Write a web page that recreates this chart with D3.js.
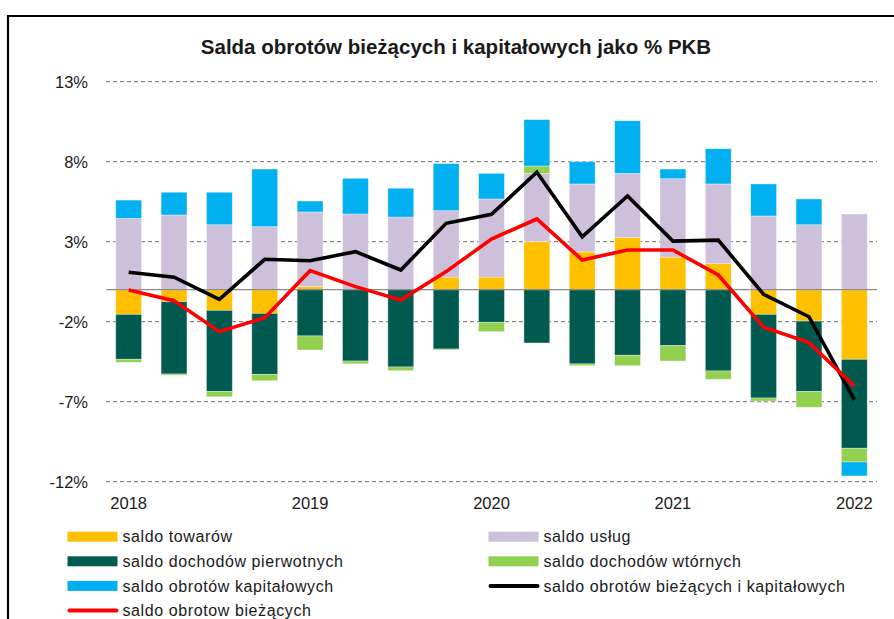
<!DOCTYPE html>
<html>
<head>
<meta charset="utf-8">
<script src="https://cdn.jsdelivr.net/npm/d3@7"></script>
<style>
  body { margin: 0; background: #fff; }
  text { font-family: "Liberation Sans", Arial, sans-serif; fill: #1a1a1a; }
</style>
</head>
<body>
<div id="chart"></div>
<script>
// kwartały 2018 Q1 - 2022 Q1
const kwartaly = ["2018 Q1", "2018 Q2", "2018 Q3", "2018 Q4", "2019 Q1", "2019 Q2", "2019 Q3", "2019 Q4",
  "2020 Q1", "2020 Q2", "2020 Q3", "2020 Q4", "2021 Q1", "2021 Q2", "2021 Q3", "2021 Q4", "2022 Q1"];
const etykietyX = { "2018 Q1": "2018", "2019 Q1": "2019", "2020 Q1": "2020", "2021 Q1": "2021", "2022 Q1": "2022" };
const tickiY = [-12, -7, -2, 3, 8, 13];

const saldoTowarow = [-1.54, -0.75, -1.29, -1.48, 0.19, 0.0, 0.0, 0.79, 0.79, 3.0, 2.36, 3.27, 2.04, 1.63, -1.54, -1.96, -4.35];
const saldoUslug = [4.46, 4.67, 4.06, 3.94, 4.67, 4.73, 4.54, 4.15, 4.88, 4.27, 4.25, 4.0, 4.9, 4.98, 4.61, 4.06, 4.73];
const saldoPierwotnych = [-2.81, -4.52, -5.08, -3.81, -2.89, -4.46, -4.83, -3.71, -2.04, -3.33, -4.64, -4.1, -3.5, -5.08, -5.23, -4.41, -5.56];
const saldoWtornych = [-0.19, -0.08, -0.32, -0.4, -0.88, -0.17, -0.23, -0.06, -0.58, 0.46, -0.11, -0.65, -0.96, -0.52, -0.19, -0.98, -0.86];
const saldoKapitalowych = [1.14, 1.42, 2.03, 3.6, 0.68, 2.23, 1.8, 2.94, 1.6, 2.9, 1.39, 3.29, 0.6, 2.2, 2.0, 1.61, -0.87];
const saldoBiezacych = [-0.02, -0.69, -2.62, -1.75, 1.19, 0.19, -0.64, 1.13, 3.17, 4.42, 1.86, 2.48, 2.48, 0.92, -2.35, -3.31, -6.02];
const saldoBiezKap = [1.09, 0.78, -0.6, 1.9, 1.81, 2.38, 1.23, 4.15, 4.71, 7.34, 3.31, 5.86, 3.04, 3.1, -0.29, -1.69, -6.89];

const serie = [
  { key: "tow", nazwa: "saldo towarów", kolor: "#FFC000", dane: saldoTowarow },
  { key: "usl", nazwa: "saldo usług", kolor: "#CCC0DA", dane: saldoUslug },
  { key: "pie", nazwa: "saldo dochodów pierwotnych", kolor: "#005A50", dane: saldoPierwotnych },
  { key: "wto", nazwa: "saldo dochodów wtórnych", kolor: "#92D050", dane: saldoWtornych },
  { key: "kap", nazwa: "saldo obrotów kapitałowych", kolor: "#00B0F0", dane: saldoKapitalowych }
];
const linie = [
  { nazwa: "saldo obrotów bieżących i kapitałowych", kolor: "#000000", dane: saldoBiezKap },
  { nazwa: "saldo obrotow bieżących", kolor: "#FF0000", dane: saldoBiezacych }
];

const width = 894, height = 619;
const svg = d3.select("#chart").append("svg").attr("width", width).attr("height", height);

// ramka
svg.append("path")
  .attr("d", "M8,620 L8,16 L894,16")
  .attr("fill", "none").attr("stroke", "#000").attr("stroke-width", 2.2);

const x = d3.scaleBand().domain(kwartaly).range([106, 877]).paddingInner(0.43).paddingOuter(0.215);
const y = d3.scaleLinear().domain([-12, 13]).range([481.7, 81.7]);

// siatka
svg.append("g").selectAll("line")
  .data(tickiY).join("line")
  .attr("x1", 106).attr("x2", 877)
  .attr("y1", d => y(d)).attr("y2", d => y(d))
  .attr("stroke", "#6e6e6e").attr("stroke-width", 1).attr("stroke-dasharray", "4,3");

svg.append("g").selectAll("text")
  .data(tickiY).join("text")
  .attr("x", 88).attr("y", d => y(d)).attr("dy", "0.36em")
  .attr("text-anchor", "end").style("font-size", "16.5px")
  .text(d => d + "%");

// słupki skumulowane
const tabela = kwartaly.map((k, i) => {
  const o = { kwartal: k };
  serie.forEach(s => { o[s.key] = s.dane[i]; });
  return o;
});
const stos = d3.stack().keys(serie.map(s => s.key)).offset(d3.stackOffsetDiverging)(tabela);
const kolor = d3.scaleOrdinal().domain(serie.map(s => s.key)).range(serie.map(s => s.kolor));

svg.append("g").selectAll("g")
  .data(stos).join("g")
  .attr("fill", d => kolor(d.key))
  .selectAll("rect")
  .data(d => d)
  .join("rect")
  .attr("x", d => x(d.data.kwartal))
  .attr("y", d => y(d[1]))
  .attr("width", x.bandwidth())
  .attr("height", d => Math.max(0, y(d[0]) - y(d[1])))
  .attr("stroke", "#fff").attr("stroke-opacity", 0.45).attr("stroke-width", 0.8);

// linia zera
svg.append("line")
  .attr("x1", 106).attr("x2", 877).attr("y1", y(0)).attr("y2", y(0))
  .attr("stroke", "#8c8c8c").attr("stroke-width", 1.2);

// linie
const linia = d3.line().x((d, i) => x(kwartaly[i]) + x.bandwidth() / 2).y(d => y(d));
svg.append("g").selectAll("path")
  .data(linie).join("path")
  .attr("d", d => linia(d.dane))
  .attr("fill", "none")
  .attr("stroke", d => d.kolor)
  .attr("stroke-width", 3.6)
  .attr("stroke-linejoin", "miter");

// oś X
svg.append("g").selectAll("text")
  .data(kwartaly.filter(k => etykietyX[k])).join("text")
  .attr("x", d => x(d) + x.bandwidth() / 2).attr("y", 509)
  .attr("text-anchor", "middle").style("font-size", "16.5px")
  .text(d => etykietyX[d]);

// tytuł
svg.append("text")
  .attr("x", 456).attr("y", 54)
  .attr("text-anchor", "middle")
  .style("font-size", "20.5px").style("font-weight", "bold")
  .text("Salda obrotów bieżących i kapitałowych jako % PKB");

// legenda
const legenda = [
  { ...serie[0], kol: 0, wiersz: 0, typ: "bar" },
  { ...serie[1], kol: 1, wiersz: 0, typ: "bar" },
  { ...serie[2], kol: 0, wiersz: 1, typ: "bar" },
  { ...serie[3], kol: 1, wiersz: 1, typ: "bar" },
  { ...serie[4], kol: 0, wiersz: 2, typ: "bar" },
  { ...linie[0], kol: 1, wiersz: 2, typ: "line" },
  { ...linie[1], kol: 0, wiersz: 3, typ: "line" }
];
const kolX = [67.5, 488.5];
const leg = svg.append("g").selectAll("g")
  .data(legenda).join("g")
  .attr("transform", d => `translate(${kolX[d.kol]},${536.7 + d.wiersz * 24.6})`);

leg.filter(d => d.typ === "bar").append("rect")
  .attr("x", 0).attr("y", -5).attr("width", 50).attr("height", 10)
  .attr("fill", d => d.kolor);
leg.filter(d => d.typ === "line").append("line")
  .attr("x1", 2).attr("x2", 49).attr("y1", 0).attr("y2", 0)
  .attr("stroke", d => d.kolor).attr("stroke-width", 4).attr("stroke-linecap", "round");
leg.append("text")
  .attr("x", 55).attr("y", 0).attr("dy", "0.36em")
  .style("font-size", "16px").style("letter-spacing", "0.6px")
  .text(d => d.nazwa);
</script>
</body>
</html>
